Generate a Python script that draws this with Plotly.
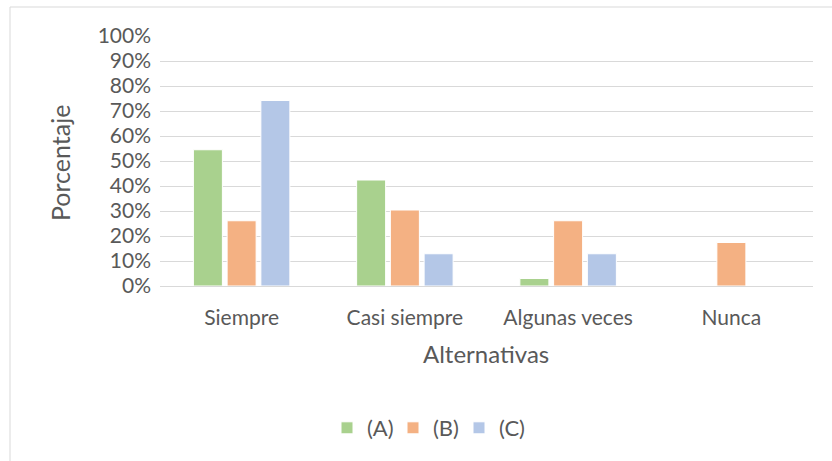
import plotly.graph_objects as go

categories = ["Siempre", "Casi siempre", "Algunas veces", "Nunca"]
series_names = ["(A)", "(B)", "(C)"]
values_a = [0.545, 0.424, 0.030, 0.0]
values_b = [0.261, 0.304, 0.261, 0.174]
values_c = [0.742, 0.129, 0.129, 0.0]
colors = ["#A9D18E", "#F4B183", "#B4C7E7"]

W, H = 832, 461
L, R, T, B = 160, 19, 36, 175
pw, ph = W - L - R, H - T - B

def px(x):
    return (x - L) / pw

def py(y):
    return (H - B - y) / ph

font_fam = "Lato, 'Open Sans', sans-serif"
txt = "#595959"

fig = go.Figure()
for name, vals, col in zip(series_names, [values_a, values_b, values_c], colors):
    fig.add_trace(go.Bar(x=categories, y=vals, name=name,
                         marker=dict(color=col, line=dict(color="white", width=1))))

fig.update_layout(
    width=W, height=H,
    margin=dict(l=L, r=R, t=T, b=B, autoexpand=False),
    paper_bgcolor="white", plot_bgcolor="white",
    barmode="group", bargap=0.38, bargroupgap=0.14,
    font=dict(family=font_fam, size=21, color=txt),
    showlegend=True,
    legend=dict(orientation="h", x=px(426), xanchor="center", y=py(428), yanchor="middle",
                font=dict(size=22, color=txt), itemwidth=30, traceorder="normal",
                entrywidth=21, entrywidthmode="pixels"),
    xaxis=dict(showgrid=False, showline=False, ticks="", tickfont=dict(size=21, color=txt),
               ticklabelstandoff=17),
    yaxis=dict(range=[0, 1], dtick=0.1, tickformat=".0%", showgrid=True, gridcolor="#D9D9D9",
               gridwidth=1, zeroline=True, zerolinecolor="#D9D9D9", zerolinewidth=1,
               showline=False, ticks="", tickfont=dict(size=21, color=txt), ticklabelstandoff=8),
    annotations=[
        dict(text="Alternativas", xref="paper", yref="paper", x=px(486), y=py(353),
             xanchor="center", yanchor="middle", showarrow=False, font=dict(size=24, color=txt)),
        dict(text="Porcentaje", xref="paper", yref="paper", x=px(60), y=py(163),
             xanchor="center", yanchor="middle", showarrow=False, textangle=-90,
             font=dict(size=25, color=txt)),
    ],
    shapes=[dict(type="rect", xref="paper", yref="paper", x0=px(10), y0=py(470), x1=px(850), y1=py(7),
                 line=dict(color="#D9D9D9", width=1), layer="below")],
)

fig.write_html("out.html", config={"displayModeBar": False},
               post_script="document.body.style.margin='0px';")
